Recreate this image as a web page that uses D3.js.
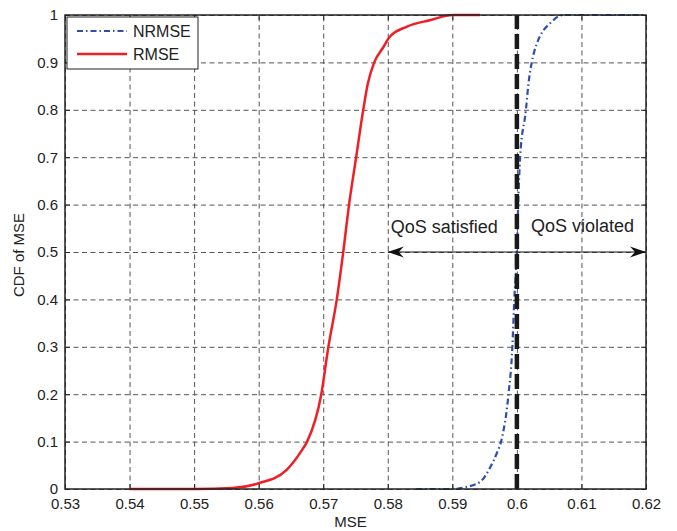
<!DOCTYPE html>
<meta charset="utf-8">
<style>
body { margin: 0; background: #fff; font-family: "Liberation Sans", Arial, Helvetica, sans-serif; }
.tick text { font-family: "Liberation Sans", Arial, sans-serif; font-size: 15px; fill: #222; }
.grid line { stroke: #555; stroke-dasharray: 5,3.5; stroke-width: 1; }
.grid .domain { display: none; }
</style>
<body>
<script src="https://d3js.org/d3.v7.min.js"></script>
<script>

const xTicks = [0.53, 0.54, 0.55, 0.56, 0.57, 0.58, 0.59, 0.6, 0.61, 0.62];
const yTicks = [0, 0.1, 0.2, 0.3, 0.4, 0.5, 0.6, 0.7, 0.8, 0.9, 1];

const rmseX = [0.540, 0.550, 0.556, 0.560, 0.5643, 0.5667, 0.5675, 0.5697, 0.5708, 0.5721, 0.5731,
               0.5740, 0.5751, 0.5762, 0.5769, 0.5779, 0.5793, 0.5803, 0.5829, 0.5865, 0.5901, 0.5943];
const rmseY = [0, 0, 0.002, 0.012, 0.04, 0.082, 0.1, 0.2, 0.3, 0.4, 0.5,
               0.6, 0.7, 0.8, 0.855, 0.9, 0.932, 0.954, 0.975, 0.989, 1, 1];

const nrmseX = [0.5844, 0.5900, 0.5917, 0.5943, 0.5958, 0.5969, 0.5976, 0.5987, 0.5993, 0.5996, 0.6000,
                0.6002, 0.6005, 0.6014, 0.6018, 0.6023, 0.6031, 0.6038, 0.6051, 0.6071, 0.6200];
const nrmseY = [0, 0, 0.003, 0.015, 0.044, 0.076, 0.103, 0.2, 0.3, 0.4, 0.5,
                0.6, 0.7, 0.8, 0.856, 0.9, 0.94, 0.961, 0.982, 1, 1];

const threshold = 0.6;
const arrowRange = [0.58, 0.62];
const arrowLevel = 0.5;

const width = 677, height = 531;
const margin = {top: 15, right: 31, bottom: 42, left: 65};
const innerWidth = width - margin.left - margin.right;
const innerHeight = height - margin.top - margin.bottom;

const x = d3.scaleLinear().domain([0.53, 0.62]).range([0, innerWidth]);
const y = d3.scaleLinear().domain([0, 1]).range([innerHeight, 0]);

const svg = d3.select("body").append("svg")
    .attr("width", width)
    .attr("height", height);

const g = svg.append("g")
    .attr("transform", `translate(${margin.left},${margin.top})`);

// grid
g.append("g")
    .attr("class", "grid")
    .attr("transform", `translate(0,${innerHeight})`)
    .call(d3.axisBottom(x).tickValues(xTicks).tickSize(-innerHeight).tickFormat(""))
    .call(a => a.selectAll("text").remove());
g.append("g")
    .attr("class", "grid")
    .call(d3.axisLeft(y).tickValues(yTicks).tickSize(-innerWidth).tickFormat(""))
    .call(a => a.selectAll("text").remove());

// axes with inward ticks
const fmt = d => d3.format("")(+d.toFixed(2));
g.append("g")
    .attr("transform", `translate(0,${innerHeight})`)
    .call(d3.axisBottom(x).tickValues(xTicks).tickSize(-5).tickPadding(9).tickFormat(fmt))
    .call(a => a.select(".domain").remove());
g.append("g")
    .call(d3.axisLeft(y).tickValues(yTicks).tickSize(-5).tickPadding(7).tickFormat(fmt))
    .call(a => a.select(".domain").remove());
g.append("g")
    .call(d3.axisTop(x).tickValues(xTicks).tickSize(-5).tickFormat(""))
    .call(a => a.select(".domain").remove())
    .call(a => a.selectAll("text").remove());
g.append("g")
    .attr("transform", `translate(${innerWidth},0)`)
    .call(d3.axisRight(y).tickValues(yTicks).tickSize(-5).tickFormat(""))
    .call(a => a.select(".domain").remove())
    .call(a => a.selectAll("text").remove());

g.selectAll(".tick line").filter(function() { return !this.closest(".grid"); })
    .attr("stroke", "#222");

// curves
const line = d3.line()
    .x(d => x(d[0]))
    .y(d => y(d[1]))
    .curve(d3.curveMonotoneX);

g.append("path")
    .datum(rmseX.map((v, i) => [v, rmseY[i]]))
    .attr("d", line)
    .attr("fill", "none")
    .attr("stroke", "#ee1f26")
    .attr("stroke-width", 2.5);

g.append("path")
    .datum(nrmseX.map((v, i) => [v, nrmseY[i]]))
    .attr("d", line)
    .attr("fill", "none")
    .attr("stroke", "#2f4fae")
    .attr("stroke-width", 2.2)
    .attr("stroke-dasharray", "6,3,1.5,3");

// threshold line
g.append("line")
    .attr("x1", x(threshold)).attr("x2", x(threshold))
    .attr("y1", y(0)).attr("y2", y(1))
    .attr("stroke", "#1a1a1a")
    .attr("stroke-width", 4.5)
    .attr("stroke-dasharray", "15,5");

// double arrow
const ay = y(arrowLevel);
const ax0 = x(arrowRange[0]), ax1 = x(arrowRange[1]);
g.append("line")
    .attr("x1", ax0).attr("x2", ax1)
    .attr("y1", ay).attr("y2", ay)
    .attr("stroke", "#111").attr("stroke-width", 1);
const head = (tx, dir) => `M${tx},${ay} L${tx + dir * 16},${ay - 5.5} L${tx + dir * 11},${ay} L${tx + dir * 16},${ay + 5.5} Z`;
g.append("path").attr("d", head(ax0, 1)).attr("fill", "#111");
g.append("path").attr("d", head(ax1, -1)).attr("fill", "#111");

g.append("text")
    .attr("x", ax0 + 3).attr("y", ay - 19)
    .attr("font-size", 18).attr("fill", "#222")
    .text("QoS satisfied");
g.append("text")
    .attr("x", x(threshold) + 14).attr("y", ay - 20)
    .attr("font-size", 18).attr("fill", "#222")
    .text("QoS violated");

// frame
g.append("rect")
    .attr("width", innerWidth).attr("height", innerHeight)
    .attr("fill", "none").attr("stroke", "#222").attr("stroke-width", 1.5);

// legend
const legend = g.append("g").attr("transform", "translate(2,2)");
legend.append("rect")
    .attr("width", 131).attr("height", 52)
    .attr("fill", "#fff").attr("stroke", "#222").attr("stroke-width", 1);
const items = [
  {name: "NRMSE", color: "#2f4fae", dash: "6,3,1.5,3", w: 2.2},
  {name: "RMSE", color: "#ee1f26", dash: null, w: 2.5}
];
items.forEach((d, i) => {
  const yy = 14 + i * 23;
  legend.append("line")
      .attr("x1", 10).attr("x2", 60).attr("y1", yy).attr("y2", yy)
      .attr("stroke", d.color).attr("stroke-width", d.w)
      .attr("stroke-dasharray", d.dash);
  legend.append("text")
      .attr("x", 66).attr("y", yy + 6)
      .attr("font-size", 16).attr("fill", "#222")
      .text(d.name);
});

// axis labels
svg.append("text")
    .attr("x", margin.left + innerWidth / 2 - 5).attr("y", 527)
    .attr("text-anchor", "middle")
    .attr("font-size", 15).attr("fill", "#222")
    .text("MSE");
svg.append("text")
    .attr("transform", `translate(24,${margin.top + innerHeight / 2 + 3}) rotate(-90)`)
    .attr("text-anchor", "middle")
    .attr("font-size", 15).attr("fill", "#222")
    .text("CDF of MSE");

</script>
